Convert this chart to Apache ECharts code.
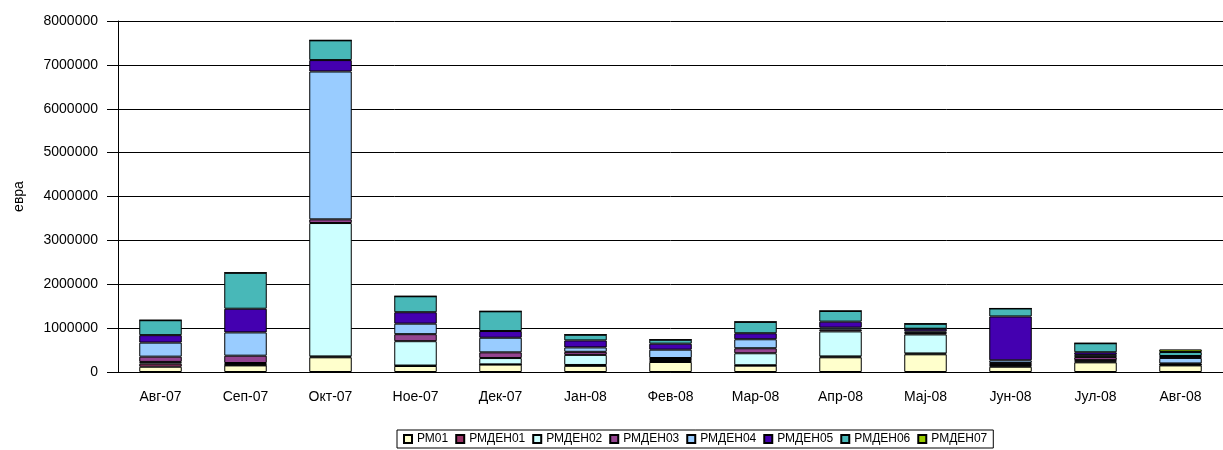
<!DOCTYPE html>
<html>
<head>
<meta charset="utf-8">
<script src="https://cdn.jsdelivr.net/npm/echarts@6/dist/echarts.min.js"></script>
<style>
html,body{margin:0;padding:0;background:#fff;}
#c{width:1223px;height:450px;}
</style>
</head>
<body>
<div id="c"></div>
<script>
var categories = ['Авг-07','Сеп-07','Окт-07','Ное-07','Дек-07','Јан-08','Фев-08','Мар-08','Апр-08','Мај-08','Јун-08','Јул-08','Авг-08'];
var seriesNames = ['РМ01','РМДЕН01','РМДЕН02','РМДЕН03','РМДЕН04','РМДЕН05','РМДЕН06','РМДЕН07'];
var PM01    = [120000, 150000, 335000, 137000, 169000, 140000, 228000, 144000, 335000, 403000, 120000, 220000, 150000];
var DEN01   = [70000, 10000, 20000, 10000, 5000, 20000, 20000, 10000, 20000, 20000, 25000, 20000, 15000];
var DEN02   = [40000, 45000, 3040000, 555000, 144000, 230000, 25000, 273000, 570000, 433000, 15000, 30000, 10000];
var DEN03   = [120000, 167000, 84000, 160000, 130000, 70000, 46000, 114000, 40000, 30000, 46000, 70000, 20000];
var DEN04   = [320000, 530000, 3370000, 240000, 333000, 100000, 190000, 205000, 46000, 40000, 60000, 50000, 125000];
var DEN05   = [170000, 540000, 260000, 260000, 153000, 160000, 137000, 137000, 137000, 60000, 1000000, 60000, 45000];
var DEN06   = [340000, 820000, 450000, 364000, 449000, 130000, 90000, 260000, 243000, 114000, 182000, 205000, 90000];
var DEN07   = [0, 0, 0, 0, 0, 0, 0, 0, 0, 0, 0, 0, 60000];
var yTicks = { min: 0, max: 8000000, interval: 1000000 };
var colors = ['#FFFFCC','#993366','#CCFFFF','#944490','#99CCFF','#4400B0','#48B8B8','#99CC00'];
var allData = [PM01, DEN01, DEN02, DEN03, DEN04, DEN05, DEN06, DEN07];

var FONT = 'Liberation Sans, Arial, sans-serif';
var chart = echarts.init(document.getElementById('c'));
var series = seriesNames.map(function(n, i){
  return {
    name: n, type: 'bar', stack: 'total', barWidth: '50%',
    data: allData[i],
    itemStyle: { color: colors[i], borderColor: '#000', borderWidth: 1 }
  };
});
chart.setOption({
  animation: false,
  backgroundColor: '#fff',
  grid: { left: 118, top: 21, width: 1113, height: 351 },
  legend: {
    data: seriesNames, left: 397, top: 430,
    itemWidth: 8, itemHeight: 8, itemGap: 7,
    borderColor: '#000', borderWidth: 1, padding: [3, 6],
    textStyle: { fontFamily: FONT, fontSize: 12, color: '#000' },
    icon: 'rect'
  },
  xAxis: {
    type: 'category', data: categories,
    axisLine: { lineStyle: { color: '#000', width: 1 } },
    axisTick: { alignWithLabel: true, length: 7, lineStyle: { color: '#000' } },
    axisLabel: { margin: 18, color: '#000', fontFamily: FONT, fontSize: 14 }
  },
  yAxis: {
    type: 'value', min: yTicks.min, max: yTicks.max, interval: yTicks.interval,
    name: 'евра', nameLocation: 'middle', nameGap: 92, nameRotate: 90,
    nameTextStyle: { fontFamily: FONT, fontSize: 14, color: '#000' },
    axisLine: { show: true, lineStyle: { color: '#000', width: 1 } },
    axisTick: { show: true, length: 11, lineStyle: { color: '#000' } },
    splitLine: { lineStyle: { color: '#000', width: 1 } },
    axisLabel: { margin: 20, color: '#000', fontFamily: FONT, fontSize: 14,
      formatter: function(v){ return String(v); } }
  },
  series: series
});
</script>
</body>
</html>
